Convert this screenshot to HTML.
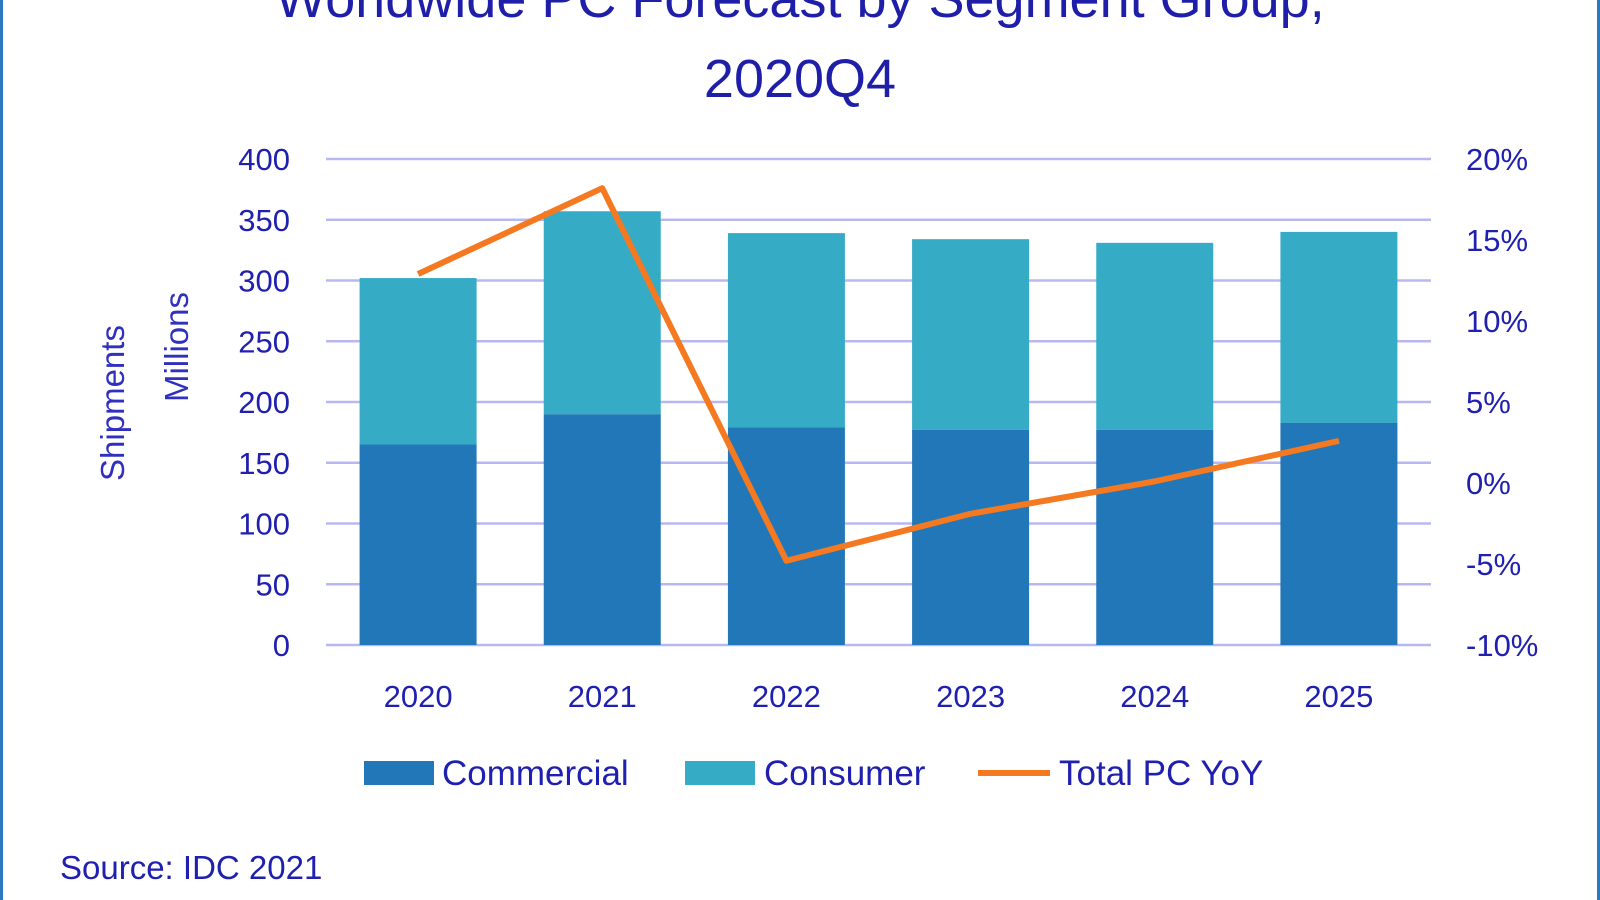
<!DOCTYPE html>
<html><head><meta charset="utf-8"><style>
html,body{margin:0;padding:0;background:#fff;}
body{width:1600px;height:900px;overflow:hidden;position:relative;font-family:"Liberation Sans",sans-serif;}
.b{position:absolute;top:0;bottom:0;width:3px;background:#2a7ac0;}
</style></head><body>
<div class="b" style="left:0"></div>
<div class="b" style="right:0"></div>
<svg id="chart" width="1600" height="900" style="position:absolute;left:0;top:0">
<text x="800" y="17" text-anchor="middle" font-size="54" fill="#1e1ea8">Worldwide PC Forecast by Segment Group,</text>
<text x="800" y="97" text-anchor="middle" font-size="54" fill="#1e1ea8">2020Q4</text>
<text transform="translate(124,403) rotate(-90)" text-anchor="middle" font-size="33" fill="#3030c0">Shipments</text>
<text transform="translate(188,347) rotate(-90)" text-anchor="middle" font-size="33" fill="#3030c0">Millions</text>
<g id="grid"></g><g id="bars"></g><g id="line"></g><g id="axes"></g>
<g>
<rect x="364" y="761" width="70" height="24" fill="#2277b9"/>
<text x="442" y="785" font-size="35" fill="#2020b0">Commercial</text>
<rect x="685" y="761" width="70" height="24" fill="#35abc6"/>
<text x="764" y="785" font-size="35" fill="#2020b0">Consumer</text>
<line x1="978" y1="773" x2="1050" y2="773" stroke="#f47920" stroke-width="6"/>
<text x="1059" y="785" font-size="35" fill="#2020b0">Total PC YoY</text>
</g>
<text x="60" y="879" font-size="33" fill="#2020b0">Source: IDC 2021</text>
</svg>
<script>
const categories=["2020","2021","2022","2023","2024","2025"];
const commercial=[165,190,179,177,177,183];
const consumer=[137,167,160,157,154,157];
const yoy=[12.9,18.2,-4.8,-1.9,0.1,2.6];
const leftTicks=[0,50,100,150,200,250,300,350,400];
const rightTicks=["-10%","-5%","0%","5%","10%","15%","20%"];
const NS="http://www.w3.org/2000/svg";
const X0=326,X1=1431,Y0=645,Y1=159;
const band=(X1-X0)/categories.length;
const xc=i=>X0+band*(i+0.5);
const yL=v=>Y0-(v/400)*(Y0-Y1);
const yR=v=>Y0-((v+10)/30)*(Y0-Y1);
function mk(t,a,p){const e=document.createElementNS(NS,t);for(const k in a)e.setAttribute(k,a[k]);p.appendChild(e);return e;}
const grid=document.getElementById('grid'),bars=document.getElementById('bars'),line=document.getElementById('line'),axes=document.getElementById('axes');
leftTicks.forEach(v=>{
 const l=mk('line',{x1:X0,x2:X1,y1:yL(v),y2:yL(v),stroke:'#b8b8f0','stroke-width':2.5},grid);
 
 
 const t=mk('text',{x:290,y:yL(v)+11,'text-anchor':'end','font-size':31,fill:'#2020b0'},axes);
 t.textContent=v;
 
 
});
rightTicks.forEach((s,i)=>{
 const t=mk('text',{x:1466,y:yR(-10+5*i)+11,'font-size':31,fill:'#2020b0'},axes);
 t.textContent=s;
 
 
});
const bw=117;
categories.forEach((c,i)=>{
 const r1=mk('rect',{x:xc(i)-bw/2,y:yL(commercial[i]),width:bw,height:Y0-yL(commercial[i]),fill:'#2277b9'},bars);
 
 
 const top=commercial[i]+consumer[i];
 const r2=mk('rect',{x:xc(i)-bw/2,y:yL(top),width:bw,height:yL(commercial[i])-yL(top),fill:'#35abc6'},bars);
 
 
 const t=mk('text',{x:xc(i),y:707,'text-anchor':'middle','font-size':31,fill:'#2020b0'},axes);
 t.textContent=c;
 
 
});
const pl=mk('polyline',{points:yoy.map((v,i)=>xc(i)+','+yR(v)).join(' '),fill:'none',stroke:'#f47920','stroke-width':6,'stroke-linejoin':'round'},line);


</script>
</body></html>
